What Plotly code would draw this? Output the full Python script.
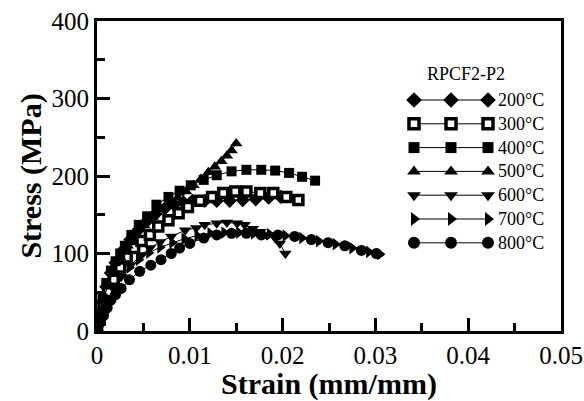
import plotly.graph_objects as go

# ---------------- data ----------------
temps = ["200°C", "300°C", "400°C", "500°C", "600°C", "700°C", "800°C"]
legend_title = "RPCF2-P2"

strain_200 = [0, 0.0003, 0.0006, 0.001, 0.0015, 0.002, 0.0028, 0.0036, 0.0045, 0.0054, 0.0063,
              0.0073, 0.0083, 0.0093, 0.0103, 0.0116, 0.0129, 0.0143, 0.0157, 0.0171, 0.0185, 0.0198]
stress_200 = [0, 20, 38, 57, 75, 88, 104, 118, 131, 142, 151,
              158, 163, 166, 168, 168, 168, 168, 169, 170, 172, 173]

strain_300 = [0, 0.0003, 0.0007, 0.0012, 0.0018, 0.0025, 0.0032, 0.0040, 0.0048, 0.0057, 0.0066,
              0.0077, 0.0088, 0.0098, 0.0111, 0.0124, 0.0136, 0.0149, 0.0161, 0.0176, 0.0190, 0.0204, 0.0217]
stress_300 = [0, 15, 32, 50, 66, 82, 95, 107, 116, 124, 135,
              143, 152, 160, 168, 173, 178, 180, 180, 178, 178, 173, 169]

strain_400 = [0, 0.0003, 0.0006, 0.001, 0.0015, 0.002, 0.0025, 0.003, 0.0037, 0.0045, 0.0054, 0.0064,
              0.0077, 0.0089, 0.0101, 0.0115, 0.0129, 0.0145, 0.0161, 0.0177, 0.0192, 0.0207, 0.0221, 0.0235]
stress_400 = [0, 22, 42, 62, 78, 90, 100, 110, 124, 137, 148, 163,
              173, 181, 188, 195, 201, 206, 208, 208, 207, 204, 199, 194]

strain_500 = [0, 0.0003, 0.0007, 0.0012, 0.0018, 0.0025, 0.0033, 0.0042, 0.0051, 0.0060, 0.0069,
              0.0078, 0.0087, 0.0096, 0.0104, 0.0112, 0.0120, 0.0127, 0.0134, 0.0140, 0.0145, 0.0150]
stress_500 = [0, 20, 40, 60, 78, 95, 110, 124, 136, 147, 157,
              165, 172, 180, 188, 196, 205, 212, 219, 226, 233, 242]

strain_600 = [0, 0.0003, 0.0007, 0.0012, 0.0018, 0.0026, 0.0036, 0.0048, 0.0057, 0.0068, 0.0080, 0.0095,
              0.0107, 0.0116, 0.0129, 0.0140, 0.0151, 0.0159, 0.0168, 0.0176, 0.0183, 0.0192, 0.0197, 0.0203]
stress_600 = [0, 12, 25, 40, 55, 70, 85, 98, 107, 115, 122, 130,
              133, 137, 139, 140, 139, 137, 132, 128, 124, 120, 113, 100]

strain_700 = [0, 0.0003, 0.0007, 0.0012, 0.0018, 0.0026, 0.0035, 0.0045, 0.0056, 0.0068, 0.0081, 0.0094,
              0.0108, 0.0122, 0.0137, 0.0153, 0.0169, 0.0186, 0.0203, 0.0221, 0.0239, 0.0257, 0.0275, 0.0293, 0.0305]
stress_700 = [0, 12, 25, 40, 55, 70, 82, 92, 101, 108, 114, 119,
              123, 126, 127, 127, 126, 125, 123, 120, 116, 112, 107, 102, 99]

strain_800 = [0, 0.0003, 0.0007, 0.0011, 0.0015, 0.002, 0.0026, 0.0035, 0.0046, 0.0058, 0.0069, 0.0080, 0.0089,
              0.0100, 0.0115, 0.0129, 0.0145, 0.0161, 0.0177, 0.0195, 0.0213, 0.0231, 0.0249, 0.0267, 0.0285, 0.0301]
stress_800 = [0, 10, 20, 30, 40, 47, 55, 66, 77, 85, 92, 100, 107,
              113, 120, 124, 126, 126, 124, 124, 122, 118, 114, 110, 104, 100]

x_major_step, x_minor_step = 0.01, 0.005
y_major_step, y_minor_step = 100, 50

series_x = [strain_200, strain_300, strain_400, strain_500, strain_600, strain_700, strain_800]
series_y = [stress_200, stress_300, stress_400, stress_500, stress_600, stress_700, stress_800]

# ---------------- layout constants ----------------
X_RANGE = [0, 0.05]
Y_RANGE = [0, 400]
W, H = 584, 401
ML, MR, MT, MB = 97, 23, 21, 70
PW, PH = W - ML - MR, H - MT - MB


def px_to_x(px):
    return X_RANGE[0] + (px - ML) / PW * (X_RANGE[1] - X_RANGE[0])


def py_to_y(py):
    return Y_RANGE[0] + (H - MB - py) / PH * (Y_RANGE[1] - Y_RANGE[0])


styles = [
    dict(symbol="diamond", size=11, color="black", line=dict(width=0)),
    dict(symbol="square", size=9, color="white", line=dict(width=3.5, color="black")),
    dict(symbol="square", size=10, color="black", line=dict(width=0)),
    dict(symbol="triangle-up", size=11, color="black", line=dict(width=0)),
    dict(symbol="triangle-down", size=11, color="black", line=dict(width=0)),
    dict(symbol="triangle-right", size=11, color="black", line=dict(width=0)),
    dict(symbol="circle", size=11, color="black", line=dict(width=0)),
]

FONT = "Liberation Serif, Times New Roman, serif"

fig = go.Figure()
for xs, ys, st, name in zip(series_x, series_y, styles, temps):
    fig.add_trace(go.Scatter(x=xs, y=ys, mode="lines+markers", name=name,
                             line=dict(color="black", width=1), marker=st,
                             showlegend=False))

# ---------------- hand-drawn legend ----------------
leg_marker_px = [414, 451, 488]
leg_text_px = 496
leg_title_py = 74
leg_row0_py = 100
leg_step_py = 23.8
for i, (st, name) in enumerate(zip(styles, temps)):
    yy = py_to_y(leg_row0_py + i * leg_step_py)
    lst = dict(st)
    lst["size"] = st["size"] + 1
    fig.add_trace(go.Scatter(x=[px_to_x(p) for p in leg_marker_px], y=[yy] * 3, mode="lines+markers",
                             line=dict(color="black", width=1), marker=lst,
                             showlegend=False, hoverinfo="skip"))
    fig.add_annotation(x=px_to_x(leg_text_px), y=yy, text=name, showarrow=False,
                       xanchor="left", yanchor="middle",
                       font=dict(family=FONT, size=18, color="black"))
fig.add_annotation(x=px_to_x(466), y=py_to_y(leg_title_py), text=legend_title, showarrow=False,
                   xanchor="center", yanchor="middle",
                   font=dict(family=FONT, size=18, color="black"))

axis_common = dict(showgrid=False, zeroline=False, showline=True, linewidth=3, linecolor="black",
                   mirror=True, ticks="inside", ticklen=13, tickwidth=2.5, tickcolor="black",
                   tickfont=dict(family=FONT, size=25, color="black"))

fig.update_layout(
    width=W, height=H,
    margin=dict(l=ML, r=MR, t=MT, b=MB, autoexpand=False),
    paper_bgcolor="white", plot_bgcolor="white",
    xaxis=dict(range=X_RANGE, tickmode="linear", tick0=0, dtick=x_major_step, tickformat="~g",
               minor=dict(ticks="inside", ticklen=8, tickwidth=2.5, tickcolor="black",
                          tickmode="linear", tick0=0, dtick=x_minor_step),
               title=dict(text="<b>Strain (mm/mm)</b>", standoff=8,
                          font=dict(family=FONT, size=30, color="black")),
               automargin=False, **axis_common),
    yaxis=dict(range=Y_RANGE, tickmode="linear", tick0=0, dtick=y_major_step,
               minor=dict(ticks="inside", ticklen=8, tickwidth=2.5, tickcolor="black",
                          tickmode="linear", tick0=0, dtick=y_minor_step),
               title=dict(text="<b>Stress (MPa)</b>", standoff=2,
                          font=dict(family=FONT, size=30, color="black")),
               automargin=False, **axis_common),
    showlegend=False,
)

fig.write_html("out.html")
